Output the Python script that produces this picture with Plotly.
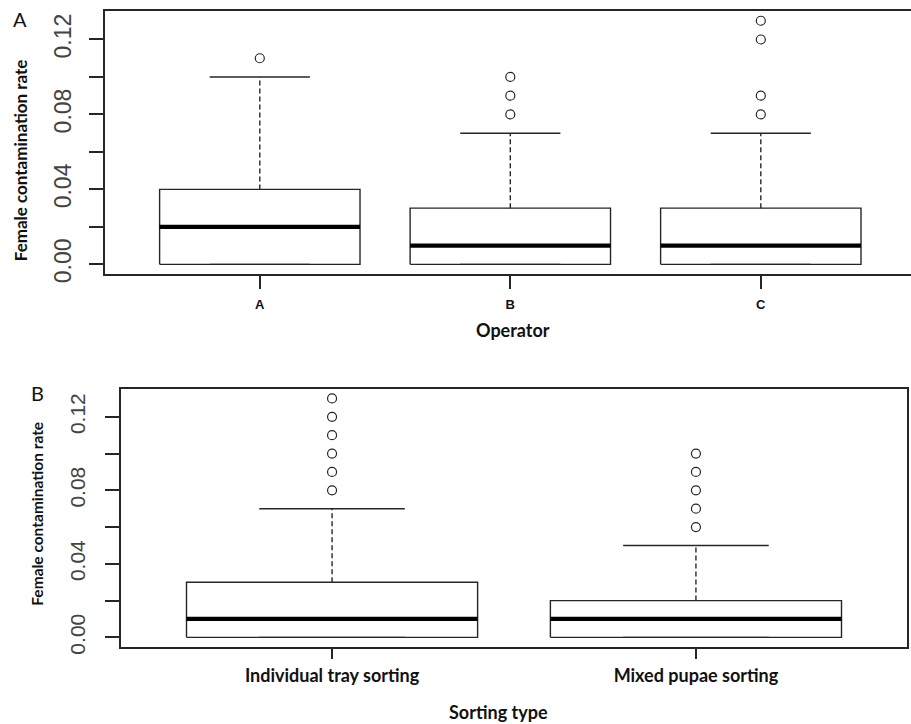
import plotly.graph_objects as go

# ---------------- data ----------------
operators = ["A", "B", "C"]
op_q1 = [0.00, 0.00, 0.00]
op_median = [0.02, 0.01, 0.01]
op_q3 = [0.04, 0.03, 0.03]
op_lower = [0.00, 0.00, 0.00]
op_upper = [0.10, 0.07, 0.07]
op_outliers = [[0.11], [0.08, 0.09, 0.10], [0.08, 0.09, 0.12, 0.13]]

sorting_types = ["Individual tray sorting", "Mixed pupae sorting"]
st_q1 = [0.00, 0.00]
st_median = [0.01, 0.01]
st_q3 = [0.03, 0.02]
st_lower = [0.00, 0.00]
st_upper = [0.07, 0.05]
st_outliers = [[0.08, 0.09, 0.10, 0.11, 0.12, 0.13], [0.06, 0.07, 0.08, 0.09, 0.10]]

y_tick_values = [0.00, 0.02, 0.04, 0.06, 0.08, 0.10, 0.12]
y_tick_labels = ["0.00", "", "0.04", "", "0.08", "", "0.12"]

# ---------------- style ----------------
INK = "#262626"
BOX_HALF = 0.4
CAP_HALF = 0.2
LW = 1.4
CAL = "Lato, Carlito, 'Open Sans', sans-serif"
ARIAL = "Liberation Sans, Arial, sans-serif"

fig = go.Figure()


def add_boxplot(positions, q1, med, q3, lo, hi, outs, xa, ya):
    bx, by, wx, wy, cx, cy, mx, my, ox, oy = [], [], [], [], [], [], [], [], [], []
    for i, p in enumerate(positions):
        bx += [p - BOX_HALF, p + BOX_HALF, p + BOX_HALF, p - BOX_HALF, p - BOX_HALF, None]
        by += [q1[i], q1[i], q3[i], q3[i], q1[i], None]
        wx += [p, p, None, p, p, None]
        wy += [q3[i], hi[i], None, q1[i], lo[i], None]
        cx += [p - CAP_HALF, p + CAP_HALF, None, p - CAP_HALF, p + CAP_HALF, None]
        cy += [hi[i], hi[i], None, lo[i], lo[i], None]
        mx += [p - BOX_HALF, p + BOX_HALF, None]
        my += [med[i], med[i], None]
        ox += [p] * len(outs[i])
        oy += list(outs[i])
    common = dict(xaxis=xa, yaxis=ya, showlegend=False, hoverinfo="skip")
    fig.add_trace(go.Scatter(x=wx, y=wy, mode="lines",
                             line=dict(color=INK, width=LW, dash="5px,3px"), **common))
    fig.add_trace(go.Scatter(x=cx, y=cy, mode="lines",
                             line=dict(color=INK, width=LW), **common))
    fig.add_trace(go.Scatter(x=bx, y=by, mode="lines",
                             line=dict(color=INK, width=LW), **common))
    fig.add_trace(go.Scatter(x=mx, y=my, mode="lines",
                             line=dict(color="#000000", width=4.2), **common))
    fig.add_trace(go.Scatter(x=ox, y=oy, mode="markers",
                             marker=dict(symbol="circle-open", size=9, color=INK,
                                         line=dict(width=1.2, color=INK)), **common))


pos_top = list(range(1, len(operators) + 1))
pos_bot = list(range(1, len(sorting_types) + 1))
add_boxplot(pos_top, op_q1, op_median, op_q3, op_lower, op_upper, op_outliers, "x", "y")
add_boxplot(pos_bot, st_q1, st_median, st_q3, st_lower, st_upper, st_outliers, "x2", "y2")

W, H = 911, 734          # figure size
HT = 724.0               # target picture height
S = H / HT               # vertical compensation


def py(y_px):
    """paper y for a target pixel row"""
    return 1 - (y_px * S) / H


axis_common = dict(showgrid=False, zeroline=False, showline=True, linecolor=INK,
                   linewidth=1.5, ticks="outside", tickcolor=INK, tickwidth=1.5)

fig.update_layout(
    width=W, height=H,
    margin=dict(l=0, r=0, t=0, b=0),
    paper_bgcolor="white", plot_bgcolor="white",
    xaxis=dict(domain=[104.5 / W, 1.0], range=[0.38, 0.38 + (W - 104.5) / 250.5],
               tickvals=pos_top, ticktext=operators, ticklen=13, mirror=True,
               ticklabelstandoff=5,
               tickfont=dict(family=ARIAL, size=13, color="#111", weight="bold"),
               anchor="y", **axis_common),
    yaxis=dict(domain=[py(273.7), py(11)], range=[-0.0052, 0.1352],
               tickvals=y_tick_values, ticktext=y_tick_labels, tickangle=-90,
               ticklen=14, mirror=False, anchor="x", ticklabelstandoff=9,
               tickfont=dict(family=ARIAL, size=23, color="#444"), **axis_common),
    xaxis2=dict(domain=[121 / W, 907 / W], range=[0.42, 2.58],
                tickvals=pos_bot, ticktext=sorting_types, ticklen=10, mirror=True,
                ticklabelstandoff=2,
                tickfont=dict(family=CAL, size=18, color="#111", weight="bold"),
                anchor="y2", **axis_common),
    yaxis2=dict(domain=[py(646), py(388.3)], range=[-0.0052, 0.1352],
                tickvals=y_tick_values, ticktext=y_tick_labels, tickangle=-90,
                ticklen=14, mirror=True, anchor="x2", ticklabelstandoff=12,
                tickfont=dict(family=ARIAL, size=21, color="#444"), **axis_common),
)

ann = [
    dict(text="A", x=20, y=19, size=20, bold=False, angle=0),
    dict(text="B", x=37, y=392, size=20, bold=False, angle=0),
    dict(text="Female contamination rate", x=20, y=160, size=17, bold=True, angle=-90),
    dict(text="Female contamination rate", x=37, y=513, size=15.5, bold=True, angle=-90),
    dict(text="Operator", x=513, y=330, size=18, bold=True, angle=0),
    dict(text="Sorting type", x=498, y=711, size=18, bold=True, angle=0),
]
for a in ann:
    fig.add_annotation(
        text=("<b>%s</b>" % a["text"]) if a["bold"] else a["text"],
        x=a["x"] / W, y=py(a["y"]), xref="paper", yref="paper",
        xanchor="center", yanchor="middle", showarrow=False, textangle=a["angle"],
        font=dict(family=CAL, size=a["size"], color="#111"),
    )

css_fix = (
    "document.documentElement.style.margin='0';"
    "document.documentElement.style.padding='0';"
    "document.body.style.margin='0';"
    "document.body.style.padding='0';"
)
fig.write_html("out.html", post_script=css_fix, config={"displayModeBar": False})
